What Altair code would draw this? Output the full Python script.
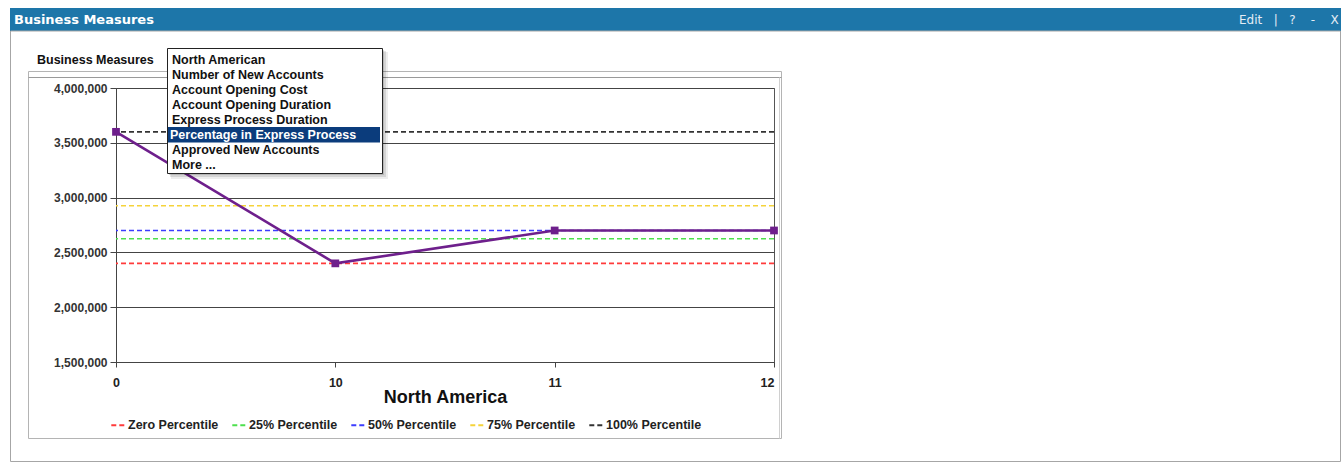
import altair as alt
import pandas as pd

# ---------------- data ----------------
categories = ["0", "10", "11", "12"]
values = [3600000, 2400000, 2700000, 2700000]

percentile_names = ["Zero Percentile", "25% Percentile", "50% Percentile",
                    "75% Percentile", "100% Percentile"]
percentile_values = [2400000, 2625000, 2700000, 2925000, 3600000]
percentile_colors = ["#ff3b3b", "#4ee04e", "#3d3dff", "#f5d33a", "#333333"]

y_ticks = [1500000, 2000000, 2500000, 3000000, 3500000, 4000000]

menu_items = ["North American", "Number of New Accounts", "Account Opening Cost",
              "Account Opening Duration", "Express Process Duration",
              "Percentage in Express Process", "Approved New Accounts", "More ..."]
selected_item = "Percentage in Express Process"

panel_title = "Business Measures"
tab_label = "Business Measures"
NB = "\u00a0"
header_links = "Edit" + NB * 3 + "|" + NB * 3 + "?" + NB * 4 + "-" + NB * 4 + "X"
x_title = "North America"

# ---------------- layout ----------------
W, H = 658, 274          # plot area
OX, OY = 116, 88         # plot origin on the page
PAGE_W, PAGE_H = 1341, 474


def px(x):
    return x - OX


def py(y):
    return y - OY


one = pd.DataFrame({"k": [0]})
line_df = pd.DataFrame({"cat": categories, "value": values})
pct_df = pd.DataFrame({"name": percentile_names, "value": percentile_values})

FONT = "Liberation Sans"
VFONT = "DejaVu Sans"

yscale = alt.Scale(domain=[y_ticks[0], y_ticks[-1]], nice=False, zero=False)
xscale = alt.Scale(type="point", domain=categories, padding=0)


def box(x1, y1, x2, y2, **kw):
    return alt.Chart(one).mark_rect(**kw).encode(
        x=alt.value(px(x1)), x2=alt.value(px(x2)),
        y=alt.value(py(y1)), y2=alt.value(py(y2)))


def hline(x1, x2, y, **kw):
    return alt.Chart(one).mark_rule(**kw).encode(
        x=alt.value(px(x1)), x2=alt.value(px(x2)),
        y=alt.value(py(y)), y2=alt.value(py(y)))


def vline(x, y1, y2, **kw):
    return alt.Chart(one).mark_rule(**kw).encode(
        x=alt.value(px(x)), x2=alt.value(px(x)),
        y=alt.value(py(y1)), y2=alt.value(py(y2)))


def label(x, y, text, **kw):
    return alt.Chart(one).mark_text(align="left", **kw).encode(
        x=alt.value(px(x)), y=alt.value(py(y)), text=alt.value(text))


# ---------------- chrome ----------------
header = box(10, 8, 1341, 31, color="#1d76a9")
header_title = label(14, 20, panel_title, baseline="middle", font=VFONT,
                     fontSize=13, fontWeight="bold", color="#ffffff")
header_right = label(1239, 20, header_links, baseline="middle", font=VFONT,
                     fontSize=12, color="#e4edf5")
outer_panel = box(10.5, 31, 1340.5, 461.5, filled=False, stroke="#a6a6a6", strokeWidth=1)
container = box(28.5, 71.5, 781.5, 438.5, filled=False, stroke="#b4b4b4", strokeWidth=1)
container_line = hline(28.5, 781.5, 77.5, color="#9a9a9a", strokeWidth=1)
container_right = vline(779.5, 77.5, 438.5, color="#d0d0d0", strokeWidth=1)
tab = label(37, 59.5, tab_label, baseline="middle", font=FONT, fontSize=12.5,
            fontWeight="bold", color="#111111")

# ---------------- data marks ----------------
rules = alt.Chart(pct_df).mark_rule(strokeDash=[5, 3], strokeWidth=1.6).encode(
    y=alt.Y("value:Q", scale=yscale),
    color=alt.Color(
        "name:N",
        scale=alt.Scale(domain=percentile_names, range=percentile_colors),
        sort=percentile_names,
        legend=alt.Legend(
            title=None, orient="none", legendX=-6, legendY=329,
            direction="horizontal", symbolType="stroke", symbolDash=[5, 3],
            symbolStrokeWidth=2, symbolSize=180, labelFont=FONT,
            labelFontSize=12.5, labelFontWeight="bold", labelColor="#222222",
            labelOffset=2, columnPadding=9, padding=0,
        ),
    ),
)

last_cat = categories[-1]
base = alt.Chart(line_df).encode(
    x=alt.X("cat:N", scale=xscale, sort=categories,
            axis=alt.Axis(title=x_title, labelAngle=0, grid=False, tickSize=5,
                          labelPadding=9, labelFont=FONT, labelFontSize=12.5,
                          labelFontWeight="bold", labelColor="#222222",
                          labelAlign={"condition": {"test": f"datum.value == '{last_cat}'",
                                                    "value": "right"},
                                      "value": "center"},
                          domainColor="#444444", tickColor="#444444",
                          titleFont=FONT, titleFontSize=18, titleFontWeight="bold",
                          titleColor="#111111", titlePadding=0)),
    y=alt.Y("value:Q", scale=yscale,
            axis=alt.Axis(title=None, values=y_ticks, format=",d", grid=True,
                          gridColor="#444444", gridWidth=1, tickSize=6,
                          labelPadding=3, labelFont=FONT, labelFontSize=12,
                          labelFontWeight="bold", labelColor="#333333",
                          domainColor="#444444", tickColor="#444444")),
)
series_line = base.mark_line(color="#6e1f8c", strokeWidth=2.6)
series_pts = base.mark_point(shape="square", filled=True, size=60,
                             color="#6e1f8c", opacity=1)

# ---------------- dropdown menu ----------------
shadow1 = box(171, 52, 388, 179, color="#000000", opacity=0.07)
shadow2 = box(170, 51, 386, 177, color="#000000", opacity=0.10)
shadow3 = box(169, 50, 384, 175, color="#000000", opacity=0.14)
menu_box = box(167.5, 48.5, 382.5, 173.5, fill="#ffffff", stroke="#222222", strokeWidth=1)
sel_index = menu_items.index(selected_item)
menu_text = label(172, 53.5, menu_items,
                  baseline="top", lineHeight=15.14, font=FONT, fontSize=12.5,
                  fontWeight="bold", color="#111111")
highlight = box(168, 127, 380, 142.5, color="#0b3c7c")
sel_text = label(170, 53.5 + 15.14 * sel_index, selected_item, baseline="top",
                 font=FONT, fontSize=12.5, fontWeight="bold", color="#ffffff")

chart = alt.layer(
    header, header_title, header_right, outer_panel, container, container_line,
    container_right, tab,
    rules, series_line, series_pts,
    shadow1, shadow2, shadow3, menu_box, menu_text, highlight, sel_text,
).properties(
    width=W, height=H,
    autosize=alt.AutoSizeParams(type="none"),
    padding={"left": OX, "top": OY, "right": PAGE_W - OX - W, "bottom": PAGE_H - OY - H},
    background="#ffffff",
).configure_view(stroke="#555555", strokeWidth=1)

chart.save("out.html", embed_options={"renderer": "svg", "actions": False})
